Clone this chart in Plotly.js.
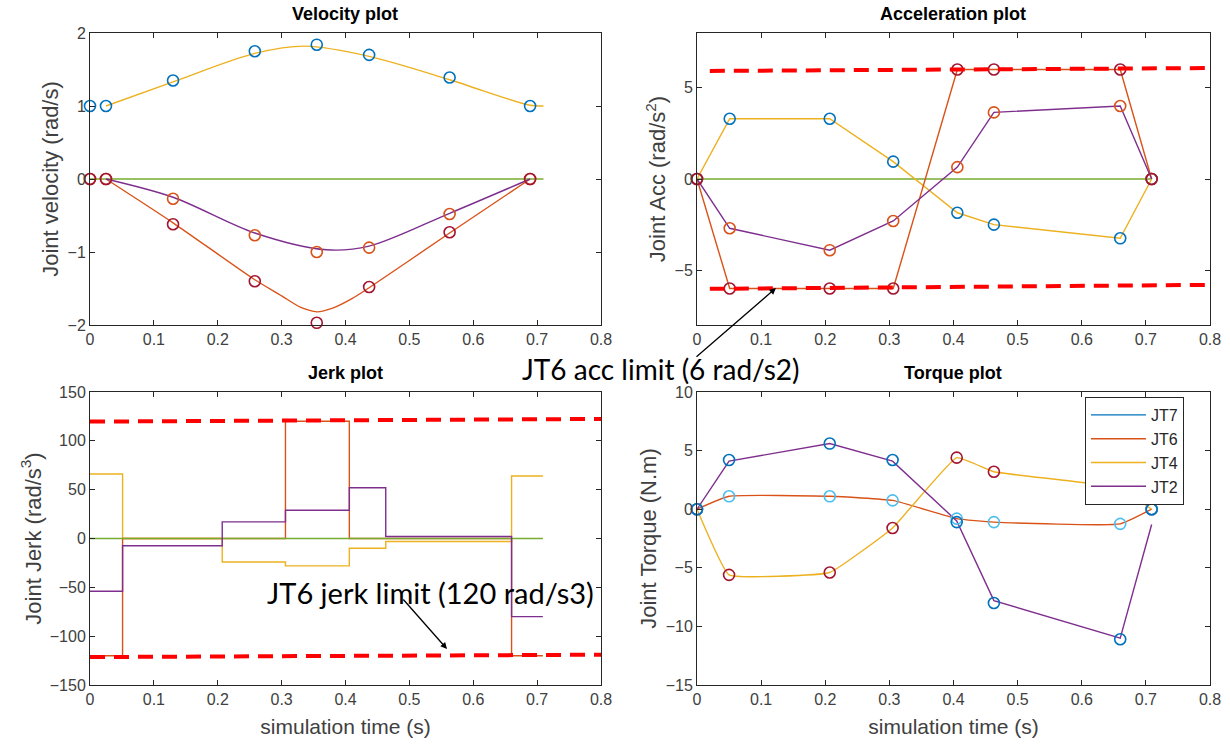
<!DOCTYPE html>
<html>
<head>
<meta charset="utf-8">
<script src="https://cdn.plot.ly/plotly-3.0.1.min.js"></script>
<style>html,body{margin:0;padding:0;background:#fff;}#chart{width:1230px;height:744px;}</style>
</head>
<body>
<div id="chart"></div>
<script>
// ---------------- DATA ----------------
// Velocity plot: waypoint markers
const velWpT     = [0, 0.025, 0.13, 0.258, 0.355, 0.437, 0.563, 0.689];
const velWpJT4   = [1.0, 1.0, 1.35, 1.75, 1.84, 1.70, 1.39, 1.0];
const velWpJT2   = [0, 0, -0.27, -0.77, -1.0, -0.94, -0.48, 0];
const velWpJT6   = [0, 0, -0.62, -1.40, -1.97, -1.48, -0.73, 0];
// Velocity plot: trajectory curves
const velJT4T    = [0.025, 0.13, 0.258, 0.337, 0.437, 0.563, 0.689, 0.71];
const velJT4     = [1.0, 1.33, 1.72, 1.82, 1.68, 1.36, 1.01, 1.0];
const velJT2T    = [0.025, 0.13, 0.258, 0.37, 0.437, 0.563, 0.689];
const velJT2     = [0, -0.25, -0.74, -0.97, -0.92, -0.47, 0];
const velJT6T    = [0.025, 0.13, 0.258, 0.30, 0.33, 0.355, 0.38, 0.41, 0.437, 0.563, 0.689];
const velJT6     = [0, -0.6, -1.38, -1.6, -1.76, -1.82, -1.77, -1.64, -1.49, -0.74, 0];
const velJT7T    = [0, 0.71];
const velJT7     = [0, 0];

// Acceleration plot
const accT       = [0, 0.051, 0.207, 0.306, 0.406, 0.463, 0.66, 0.709];
const accJT4     = [0, 3.3, 3.3, 0.95, -1.85, -2.5, -3.25, 0];
const accJT6     = [0, -6.0, -6.0, -6.0, 6.0, 6.0, 6.0, 0];
const accJT2     = [0, -2.7, -3.9, -2.3, 0.65, 3.65, 4.0, 0];
const accJT7     = [0, 0, 0, 0, 0, 0, 0, 0];
const accLimT    = [0.02, 0.8];
const accLimUp   = [5.92, 6.08];
const accLimLo   = [-6.02, -5.8];

// Jerk plot (piecewise constant, value holds until next time)
const jerkT      = [0, 0.051, 0.207, 0.306, 0.406, 0.463, 0.66, 0.709];
const jerkJT4    = [66, 0, -24, -28, -10, -3, 64, 64];
const jerkJT6    = [-120, 0, 0, 120, 0, 0, -120, -120];
const jerkJT2    = [-54, -7.5, 17, 29, 52, 2, -80, -80];
const jerkJT7    = [0, 0, 0, 0, 0, 0, 0, 0];
const jerkLimT   = [0, 0.8];
const jerkLimUp  = [119.7, 122.4];
const jerkLimLo  = [-121.4, -119];

// Torque plot
const torqT      = [0, 0.05, 0.207, 0.305, 0.405, 0.463, 0.66, 0.709];
const torqJT2    = [0, 4.1, 5.6, 4.1, -1.0, -7.8, -11.0, -1.3];
const torqWpJT2  = [0, 4.2, 5.6, 4.2, -1.1, -8.0, -11.1, 0];
const torqJT6    = [0, 1.1, 1.1, 0.75, -0.8, -1.1, -1.25, 0];
const torqJT4    = [0, -5.6, -5.4, -1.6, 4.4, 3.2, 1.8, 0];

const legendNames = ['JT7', 'JT6', 'JT4', 'JT2'];

// ---------------- STYLE ----------------
const C = {blue:'#0072BD', orange:'#D95319', yellow:'#EDB120', purple:'#7E2F8E',
           green:'#77AC30', lblue:'#4DBEEE', dred:'#A2142F', red:'#FF0000'};
const LW = 1.4;
const mk = (col) => ({symbol:'circle-open', size:11, color:col, line:{width:1.6, color:col}});

function line(x, y, col, xa, ya, extra) {
  return Object.assign({type:'scatter', mode:'lines', x, y, xaxis:xa, yaxis:ya,
    line:{color:col, width:LW}, showlegend:false, hoverinfo:'skip'}, extra || {});
}
function marks(x, y, col, xa, ya) {
  return {type:'scatter', mode:'markers', x, y, xaxis:xa, yaxis:ya, cliponaxis:false,
    marker:mk(col), showlegend:false, hoverinfo:'skip'};
}
function limit(x, y, xa, ya) {
  return {type:'scatter', mode:'lines', x, y, xaxis:xa, yaxis:ya,
    line:{color:C.red, width:4, dash:'15px,9px'}, showlegend:false, hoverinfo:'skip'};
}

const traces = [
  // Velocity
  line(velJT7T, velJT7, C.green, 'x', 'y'),
  line(velJT6T, velJT6, C.orange, 'x', 'y', {line:{color:C.orange, width:LW, shape:'spline', smoothing:0.6}}),
  line(velJT2T, velJT2, C.purple, 'x', 'y', {line:{color:C.purple, width:LW, shape:'spline', smoothing:0.9}}),
  line(velJT4T, velJT4, C.yellow, 'x', 'y', {line:{color:C.yellow, width:LW, shape:'spline', smoothing:0.9}}),
  marks(velWpT, velWpJT4, C.blue, 'x', 'y'),
  marks(velWpT, velWpJT2, C.orange, 'x', 'y'),
  marks(velWpT, velWpJT6, C.dred, 'x', 'y'),
  // Acceleration
  line(accT, accJT7, C.green, 'x2', 'y2'),
  line(accT, accJT4, C.yellow, 'x2', 'y2'),
  line(accT, accJT6, C.orange, 'x2', 'y2'),
  line(accT, accJT2, C.purple, 'x2', 'y2'),
  marks(accT, accJT4, C.blue, 'x2', 'y2'),
  marks(accT, accJT2, C.orange, 'x2', 'y2'),
  marks(accT, accJT6, C.dred, 'x2', 'y2'),
  limit(accLimT, accLimUp, 'x2', 'y2'),
  limit(accLimT, accLimLo, 'x2', 'y2'),
  // Jerk
  line(jerkT, jerkJT4, C.yellow, 'x3', 'y3', {line:{color:C.yellow, width:LW, shape:'hv'}}),
  line(jerkT, jerkJT6, C.orange, 'x3', 'y3', {line:{color:C.orange, width:LW, shape:'hv'}}),
  line(jerkT, jerkJT7, C.green, 'x3', 'y3', {line:{color:C.green, width:LW, shape:'hv'}}),
  line(jerkT, jerkJT2, C.purple, 'x3', 'y3', {line:{color:C.purple, width:LW, shape:'hv'}}),
  limit(jerkLimT, jerkLimUp, 'x3', 'y3'),
  limit(jerkLimT, jerkLimLo, 'x3', 'y3'),
  // Torque
  {type:'scatter', mode:'lines', x:[null], y:[null], xaxis:'x4', yaxis:'y4', name:legendNames[0],
   line:{color:C.blue, width:LW}, legendrank:1, hoverinfo:'skip'},
  line(torqT, torqJT6, C.orange, 'x4', 'y4', {name:legendNames[1], showlegend:true, legendrank:2,
       line:{color:C.orange, width:LW, shape:'spline', smoothing:0.4}}),
  line(torqT, torqJT4, C.yellow, 'x4', 'y4', {name:legendNames[2], showlegend:true, legendrank:3,
       line:{color:C.yellow, width:LW, shape:'spline', smoothing:0.3}}),
  line(torqT, torqJT2, C.purple, 'x4', 'y4', {name:legendNames[3], showlegend:true, legendrank:4}),
  marks(torqT, torqJT4, C.dred, 'x4', 'y4'),
  marks(torqT, torqJT6, C.lblue, 'x4', 'y4'),
  marks(torqT, torqWpJT2, C.blue, 'x4', 'y4'),
];

const FONT = 'Liberation Sans, Arial, Helvetica, sans-serif';
const tickFont = {family:FONT, size:16, color:'#404040'};
const xTitleFont = {family:FONT, size:21, color:'#404040'};
const yTitleFont = {family:FONT, size:22, color:'#404040'};
const axBase = {showline:true, linecolor:'#262626', linewidth:1, mirror:'ticks', ticks:'inside',
  ticklen:5, tickcolor:'#262626', showgrid:false, zeroline:false, tickfont:tickFont, fixedrange:true};

const W = 1230, H = 744;
const colL = [90/W, 601/W], colR = [697/W, 1210/W];
const rowT = [1-325/H, 1-33/H], rowB = [1-685/H, 1-392/H];

function xax(dom, anchor, title) {
  const a = Object.assign({}, axBase, {domain:dom, anchor, range:[0,0.8], tick0:0, dtick:0.1});
  if (title) a.title = {text:title, font:xTitleFont, standoff:12};
  return a;
}
function yax(dom, anchor, range, dtick, title) {
  return Object.assign({}, axBase, {domain:dom, anchor, range, tick0:0, dtick,
    title:{text:title, font:yTitleFont, standoff:2}});
}
function ann(text, px, py, size, family) {
  return {text, x:px/W, y:1-py/H, xref:'paper', yref:'paper', showarrow:false,
    xanchor:'center', yanchor:'middle', font:{family, size, color:'#000'}};
}
const CAL = 'Lato, Noto Sans, sans-serif';

const layout = {
  width:W, height:H, margin:{l:0, r:0, t:0, b:0},
  paper_bgcolor:'#ffffff', plot_bgcolor:'#ffffff',
  font:{family:FONT},
  xaxis:  xax(colL, 'y'),
  yaxis:  yax(rowT, 'x', [-2, 2], 1, 'Joint velocity (rad/s)'),
  xaxis2: xax(colR, 'y2'),
  yaxis2: yax(rowT, 'x2', [-8, 8], 5, 'Joint Acc (rad/s<sup>2</sup>)'),
  xaxis3: xax(colL, 'y3', 'simulation time (s)'),
  yaxis3: yax(rowB, 'x3', [-150, 150], 50, 'Joint Jerk (rad/s<sup>3</sup>)'),
  xaxis4: xax(colR, 'y4', 'simulation time (s)'),
  yaxis4: yax(rowB, 'x4', [-15, 10], 5, 'Joint Torque (N.m)'),
  showlegend:true,
  legend:{x:1085/W, y:1-397/H, xanchor:'left', yanchor:'top', bgcolor:'#ffffff',
    bordercolor:'#262626', borderwidth:1, font:{family:FONT, size:16, color:'#262626'},
    traceorder:'normal', tracegroupgap:0, itemwidth:55},
  annotations:[
    ann('<b>Velocity plot</b>', 345, 14, 18, FONT),
    ann('<b>Acceleration plot</b>', 953, 14, 18, FONT),
    ann('<b>Jerk plot</b>', 345, 373, 18, FONT),
    ann('<b>Torque plot</b>', 953, 373, 18, FONT),
    ann('JT6 acc limit (6 rad/s2)', 661, 369, 28, CAL),
    ann('JT6 jerk limit (120 rad/s3)', 430, 592, 29, CAL),
    {text:'', x:776/W, y:1-288/H, xref:'paper', yref:'paper', showarrow:true,
     ax:-81, ay:70, arrowhead:2, arrowsize:1, arrowwidth:1.3, arrowcolor:'#000'},
    {text:'', x:447/W, y:1-649/H, xref:'paper', yref:'paper', showarrow:true,
     ax:-45, ay:-51, arrowhead:2, arrowsize:1, arrowwidth:1.3, arrowcolor:'#000'}
  ]
};

Plotly.newPlot('chart', traces, layout, {staticPlot:true, displayModeBar:false});
</script>
</body>
</html>
